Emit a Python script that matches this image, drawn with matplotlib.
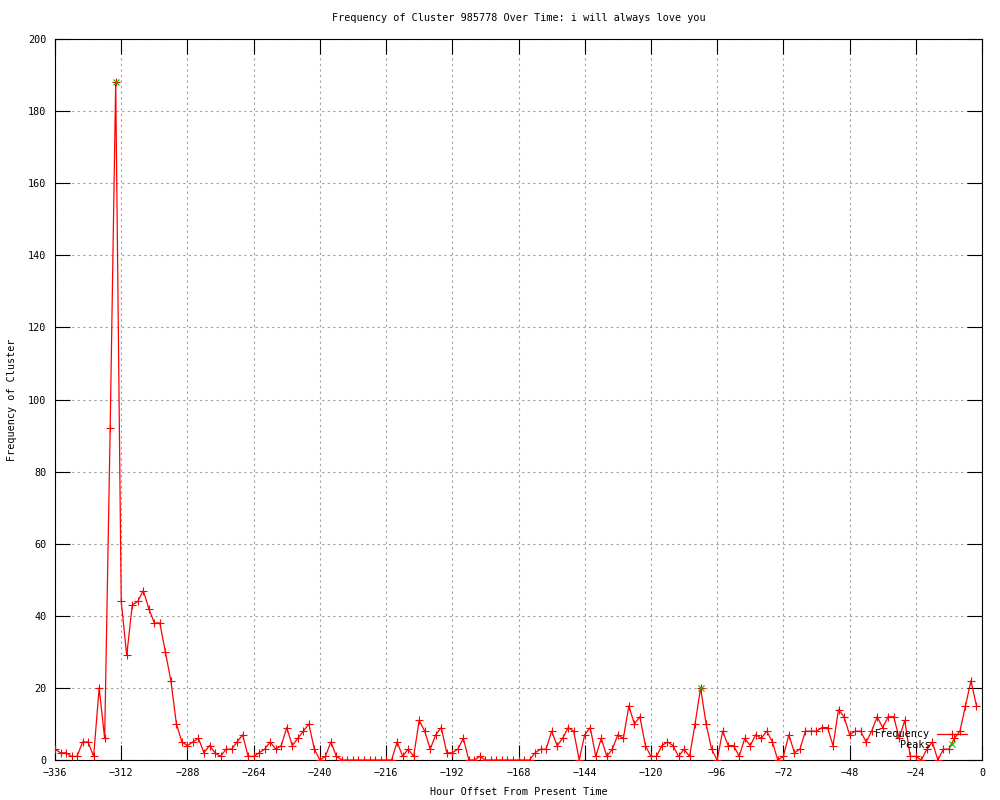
# Frequency of one cluster over the last two weeks, with the detected peaks

import numpy
import matplotlib
matplotlib.use("Agg")
import matplotlib.pyplot as plt
from matplotlib.lines import Line2D

hours = numpy.arange(-336, 0, 2)
frequency = [
    3, 2, 2, 1, 1, 5, 5, 1, 20, 6, 92, 188,
    44, 29, 43, 44, 47, 42, 38, 38, 30, 22, 10, 5,
    4, 5, 6, 2, 4, 2, 1, 3, 3, 5, 7, 1,
    1, 2, 3, 5, 3, 4, 9, 4, 6, 8, 10, 3,
    0, 1, 5, 1, 0, 0, 0, 0, 0, 0, 0, 0,
    0, 0, 5, 1, 3, 1, 11, 8, 3, 7, 9, 2,
    2, 3, 6, 0, 0, 1, 0, 0, 0, 0, 0, 0,
    0, 0, 0, 2, 3, 3, 8, 4, 6, 9, 8, 0,
    7, 9, 1, 6, 1, 3, 7, 6, 15, 10, 12, 4,
    1, 1, 4, 5, 4, 1, 3, 1, 10, 20, 10, 3,
    0, 8, 4, 4, 1, 6, 4, 7, 6, 8, 5, 0,
    1, 7, 2, 3, 8, 8, 8, 9, 9, 4, 14, 12,
    7, 8, 8, 5, 8, 12, 9, 12, 12, 6, 11, 1,
    1, 0, 3, 5, 0, 3, 3, 6, 8, 15, 22, 15,
]
peak_hours = [-314, -102]
peak_values = [188, 20]

x_ticks = list(range(-336, 1, 24))
y_ticks = list(range(0, 201, 20))

plt.rcParams["font.family"] = ["DejaVu Sans Mono"]
plt.rcParams["font.size"] = 7.3

fig = plt.figure(figsize=(10, 8), dpi=100)
ax = fig.add_axes([0.055, 0.05, 0.927, 0.90125])

ax.plot(hours, frequency, color="red", lw=0.9, marker="+", ms=6, mew=0.8,
        label="Frequency", zorder=3)
ax.plot(peak_hours, peak_values, ls="none", color="#00c000", marker="x",
        ms=5, mew=0.8, label="Peaks", zorder=4)

ax.set_xlim(-336, 0)
ax.set_ylim(0, 200)
ax.set_xticks(x_ticks)
ax.set_yticks(y_ticks)
ax.tick_params(direction="in", length=11, width=0.8, top=True, right=True,
               labeltop=False, labelright=False, pad=6)
ax.grid(True, color="#a0a0a0", ls=(0, (2, 3)), lw=0.8)
for s in ax.spines.values():
    s.set_linewidth(0.8)

ax.set_title("Frequency of Cluster 985778 Over Time: i will always love you",
             fontsize=7.3, pad=13)
ax.set_xlabel("Hour Offset From Present Time", labelpad=6)
ax.set_ylabel("Frequency of Cluster", labelpad=8)

handles = [
    Line2D([], [], color="red", lw=0.9, marker="+", ms=6, mew=0.8),
    Line2D([], [], ls="none", color="#00c000", marker="x", ms=5, mew=0.8),
]
ax.legend(handles, ["Frequency", "Peaks"], loc="upper right",
          bbox_to_anchor=(0.972, 1 - 724 / 800), bbox_transform=fig.transFigure,
          frameon=False, markerfirst=False, handlelength=3.0,
          handletextpad=0.6, labelspacing=0.05, borderpad=0)

fig.savefig("out.png", dpi=100)
